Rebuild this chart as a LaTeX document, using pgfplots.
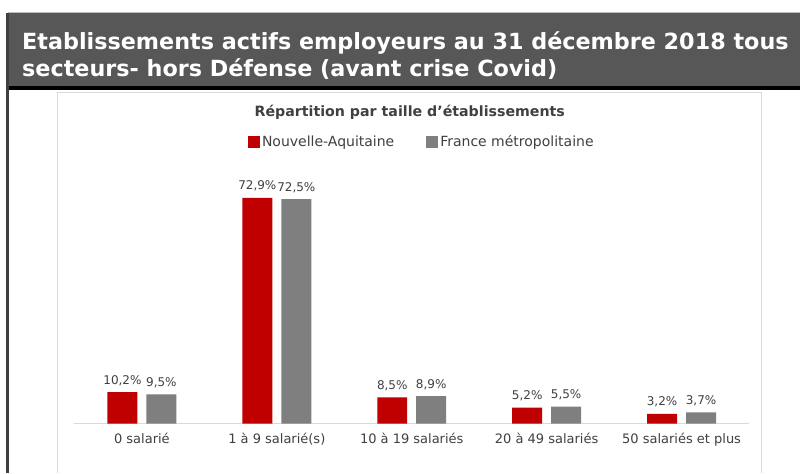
\documentclass[border=0pt]{standalone}
\usepackage{pgfplots}
\pgfplotsset{compat=1.18}
\usepackage{fontspec}
\setmainfont{DejaVu Sans}
\definecolor{nared}{HTML}{C00000}
\definecolor{frgray}{HTML}{7F7F7F}
\definecolor{barbg}{HTML}{575757}
\definecolor{txt}{HTML}{404040}
\definecolor{boxline}{HTML}{D9D9D9}
\begin{document}
\begin{tikzpicture}[x=1pt,y=1pt]
\fill[white] (0,0) rectangle (800,473);
% title bar
\fill[barbg] (8,387) rectangle (800,460);
\draw[gray!50, line width=1pt] (8,460) -- (800,460);
\fill[black] (8,383) rectangle (800,387);
\fill[txt] (6.5,0) rectangle (9.5,460);
% inner chart box
\draw[boxline, line width=1pt] (58,0) -- (58,380) -- (762,380) -- (762,0);
\node[anchor=base west, text=white, inner sep=0, font=\bfseries\fontsize{22.3}{27}\selectfont] at (22,423) {Etablissements actifs employeurs au 31 décembre 2018 tous};
\node[anchor=base west, text=white, inner sep=0, font=\bfseries\fontsize{22.3}{27}\selectfont] at (22,396) {secteurs- hors Défense (avant crise Covid)};
\node[text=txt, inner sep=0, font=\bfseries\fontsize{14.2}{16}\selectfont] at (410,361) {Répartition par taille d'établissements};
\begin{axis}[
  at={(74.5pt,49pt)}, anchor=south west,
  scale only axis, width=675pt, height=248pt,
  xmin=-0.5, xmax=4.5, ymin=0, ymax=80,
  ybar=9pt, bar width=30pt,
  axis x line=bottom, axis y line=none,
  axis line style={draw=boxline, -, line width=1pt},
  xtick={0,1,2,3,4},
  xticklabels={0 salarié, 1 à 9 salarié(s), 10 à 19 salariés, 20 à 49 salariés, 50 salariés et plus},
  xticklabel style={font=\fontsize{13}{15}\selectfont, text=txt, yshift=-6pt},
  major tick length=0pt,
  nodes near coords, point meta=explicit symbolic,
  every node near coord/.append style={font=\fontsize{12}{13}\selectfont, text=txt, yshift=3pt},
  legend style={at={(0.257,1.137)}, anchor=west, draw=none, fill=none,
    legend columns=2, font=\fontsize{14}{15}\selectfont, text=txt, inner sep=0pt,
    /tikz/every even column/.append style={column sep=30pt}},
  legend image code/.code={\fill[#1] (0pt,-6pt) rectangle (12pt,6pt);},
]
\addplot[fill=nared, draw=none] coordinates {(0,10.2) [10,2\%] (1,72.9) [72,9\%] (2,8.5) [8,5\%] (3,5.2) [5,2\%] (4,3.2) [3,2\%]};
\addplot[fill=frgray, draw=none] coordinates {(0,9.5) [9,5\%] (1,72.5) [72,5\%] (2,8.9) [8,9\%] (3,5.5) [5,5\%] (4,3.7) [3,7\%]};
\legend{Nouvelle-Aquitaine, France métropolitaine}
\end{axis}
\end{tikzpicture}
\end{document}
